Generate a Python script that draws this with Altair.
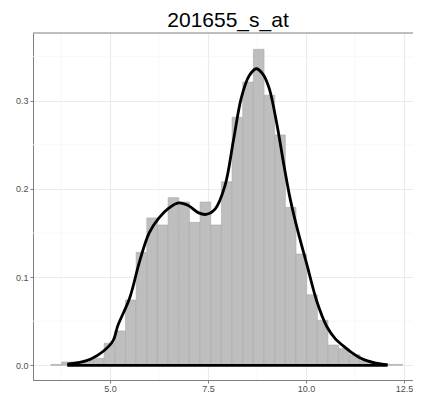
import altair as alt
import pandas as pd

# Histogram (density scale), 33 bins
bin_start = 3.492
bin_width = 0.2719
bar_density = [0.001, 0.0037, 0.004, 0.006, 0.008, 0.025, 0.039, 0.074, 0.128, 0.167,
               0.159, 0.190, 0.185, 0.162, 0.185, 0.159, 0.208, 0.281, 0.321, 0.358,
               0.306, 0.261, 0.179, 0.126, 0.080, 0.051, 0.023, 0.019, 0.012, 0.005,
               0.002, 0.001, 0.001]

# Kernel density curve
curve_x = [3.91, 4.20, 4.50, 4.83, 5.08, 5.20, 5.50, 5.75, 6.00, 6.25, 6.50, 6.75, 7.00,
           7.25, 7.45, 7.68, 7.93, 8.15, 8.35, 8.55, 8.73, 8.90, 9.06, 9.25, 9.44, 9.60,
           9.77, 10.03, 10.28, 10.53, 10.75, 10.95, 11.15, 11.36, 11.57, 11.78, 12.08]
curve_y = [0.0015, 0.003, 0.007, 0.016, 0.028, 0.045, 0.076, 0.117, 0.150, 0.167, 0.178,
           0.184, 0.181, 0.173, 0.171, 0.177, 0.203, 0.255, 0.303, 0.328, 0.336, 0.330,
           0.314, 0.275, 0.226, 0.188, 0.156, 0.113, 0.072, 0.044, 0.030, 0.022, 0.015,
           0.009, 0.005, 0.0026, 0.0007]

x_ticks = [5.0, 7.5, 10.0, 12.5]
y_ticks = [0.0, 0.1, 0.2, 0.3]
x_minor = [3.75, 6.25, 8.75, 11.25]
y_minor = [0.05, 0.15, 0.25, 0.35]

title_text = "201655_s_at"

W, H = 380, 347
xscale = alt.Scale(domain=[3.036, 12.730], nice=False, zero=False)
yscale = alt.Scale(domain=[-0.0166, 0.3765], nice=False, zero=False)

bars_df = pd.DataFrame({
    "x1": [bin_start + i * bin_width for i in range(len(bar_density))],
    "x2": [bin_start + (i + 1) * bin_width for i in range(len(bar_density))],
    "d": bar_density,
})
curve_df = pd.DataFrame({"x": curve_x, "y": curve_y})
base_df = pd.DataFrame({"x": [curve_x[0]], "x2": [curve_x[-1]], "y": [0.0]})

label_color = "#4D4D4D"
font = "Liberation Sans"

xaxis = alt.Axis(values=x_ticks, format=".1f", title=None, grid=True, gridColor="#EBEBEB",
                 gridWidth=1.2, domainColor="#7F7F7F", tickColor="#7F7F7F", tickSize=3,
                 labelFontSize=9, labelColor=label_color, labelFont=font, labelPadding=1)
yaxis = alt.Axis(values=y_ticks, format=".1f", title=None, grid=True, gridColor="#EBEBEB",
                 gridWidth=1.2, domainColor="#7F7F7F", tickColor="#7F7F7F", tickSize=3,
                 labelFontSize=9, labelColor=label_color, labelFont=font, labelPadding=2)

minor_x = alt.Chart(pd.DataFrame({"x": x_minor})).mark_rule(color="#F6F6F6", strokeWidth=0.8).encode(
    x=alt.X("x:Q", scale=xscale, axis=xaxis))
minor_y = alt.Chart(pd.DataFrame({"y": y_minor})).mark_rule(color="#F6F6F6", strokeWidth=0.8).encode(
    y=alt.Y("y:Q", scale=yscale, axis=yaxis))

bars = alt.Chart(bars_df).mark_rect(fill="#BEBEBE", stroke="#A9A9A9", strokeWidth=0.6).encode(
    x=alt.X("x1:Q", scale=xscale, axis=xaxis),
    x2="x2:Q",
    y=alt.Y("d:Q", scale=yscale, axis=yaxis),
    y2=alt.datum(0),
)

curve = alt.Chart(curve_df).mark_line(color="black", strokeWidth=2.8, interpolate="catmull-rom").encode(
    x=alt.X("x:Q", scale=xscale), y=alt.Y("y:Q", scale=yscale))

baseline = alt.Chart(base_df).mark_rule(color="black", strokeWidth=2.8).encode(
    x=alt.X("x:Q", scale=xscale), x2="x2:Q", y=alt.Y("y:Q", scale=yscale))

topline = alt.Chart(base_df).mark_rule(color="#7F7F7F", strokeWidth=1).encode(
    x=alt.value(0), x2=alt.value(W), y=alt.value(0))

chart = alt.layer(minor_x, minor_y, bars, curve, baseline, topline).properties(
    width=W, height=H,
    title=alt.TitleParams(title_text, fontSize=21, font=font, fontWeight="normal",
                          color="black", anchor="middle", offset=1.5, dx=5),
    autosize=alt.AutoSizeParams(type="none"),
    padding={"left": 25, "top": 25, "right": 0, "bottom": 12},
).configure_view(stroke=None)

chart.save("out.html", embed_options={"renderer": "svg", "actions": False})
